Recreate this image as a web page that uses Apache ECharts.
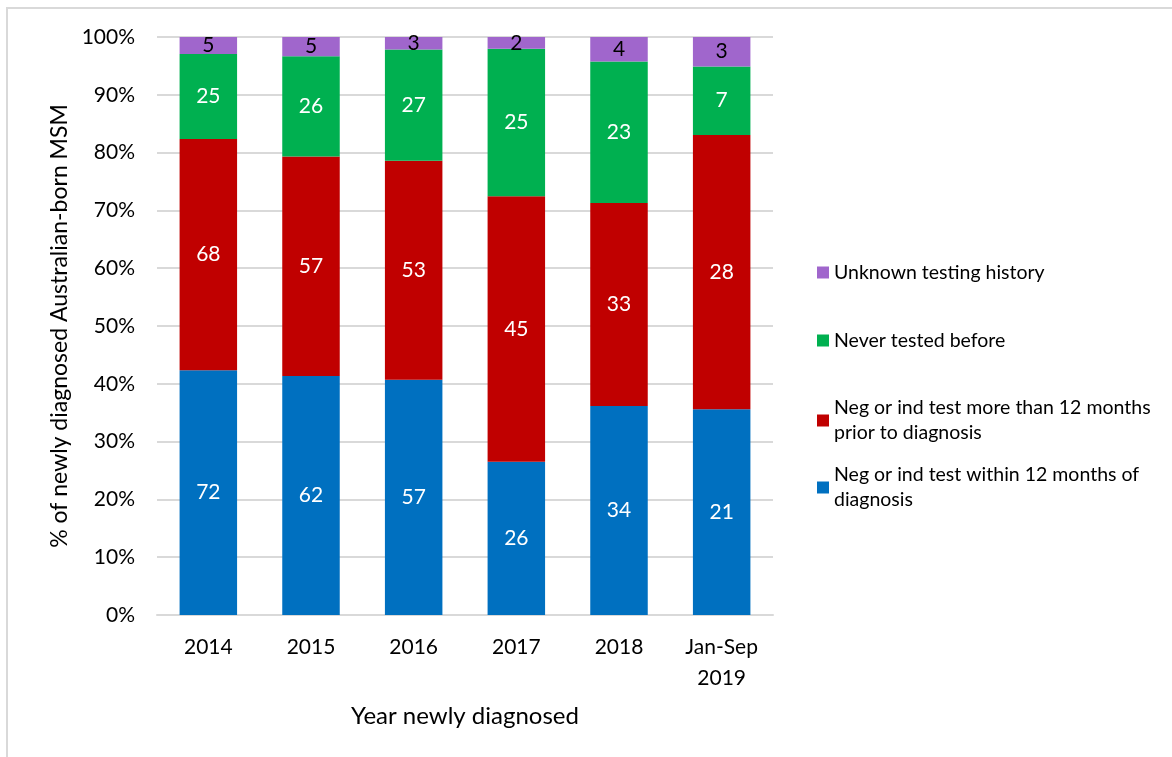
<!DOCTYPE html>
<html>
<head>
<meta charset="utf-8">
<script src="https://cdn.jsdelivr.net/npm/echarts@6/dist/echarts.min.js"></script>
<style>
  html, body { margin: 0; padding: 0; background: #fff; }
  #chart { width: 1172px; height: 757px; }
</style>
</head>
<body>
<div id="chart"></div>
<script>
// Year of diagnosis
const categories = ['2014', '2015', '2016', '2017', '2018', 'Jan-Sep\n2019'];

// Number of newly diagnosed men by testing history
const withinTwelve = [72, 62, 57, 26, 34, 21];
const moreThanTwelve = [68, 57, 53, 45, 33, 28];
const neverTested = [25, 26, 27, 25, 23, 7];
const unknownHistory = [5, 5, 3, 2, 4, 3];

const yTicks = [0, 10, 20, 30, 40, 50, 60, 70, 80, 90, 100];

const seriesNames = [
  'Neg or ind test within 12 months of\ndiagnosis',
  'Neg or ind test more than 12 months\nprior to diagnosis',
  'Never tested before',
  'Unknown testing history'
];
const counts = [withinTwelve, moreThanTwelve, neverTested, unknownHistory];
const colors = ['#0070C0', '#C00000', '#00B050', '#A066CC'];
const labelColors = ['#ffffff', '#ffffff', '#ffffff', '#000000'];

const totals = categories.map((_, i) => counts.reduce((s, arr) => s + arr[i], 0));

const FONT = 'Lato, "Open Sans", sans-serif';

const series = counts.map((arr, k) => ({
  name: seriesNames[k],
  type: 'bar',
  stack: 'total',
  barWidth: '56%',
  itemStyle: { color: colors[k] },
  data: arr.map((v, i) => ({ value: v / totals[i] * 100, count: v })),
  label: {
    show: true,
    position: 'inside',
    color: labelColors[k],
    fontSize: 21,
    fontFamily: FONT,
    formatter: p => String(p.data.count)
  }
}));

// one legend block per entry so each can sit at its own height
const legendTops = [255, 323, 378, 445];
const legendOrder = [3, 2, 1, 0];
const legends = legendOrder.map((k, j) => ({
  data: [seriesNames[k]],
  left: 812,
  top: legendTops[j],
  orient: 'vertical',
  itemWidth: 12,
  itemHeight: 12,
  itemGap: 0,
  icon: 'rect',
  selectedMode: false,
  textStyle: {
    fontSize: 19.5,
    fontFamily: FONT,
    color: '#000',
    lineHeight: 25,
    padding: seriesNames[k].indexOf('\n') >= 0 ? [25, 0, 0, 0] : 0
  }
}));

const chart = echarts.init(document.getElementById('chart'), null, { renderer: 'canvas' });
chart.setOption({
  animation: false,
  backgroundColor: '#fff',
  legend: legends,
  grid: { left: 157, right: 399, top: 37, bottom: 142 },
  xAxis: {
    type: 'category',
    data: categories,
    axisTick: { show: false },
    axisLine: { lineStyle: { color: '#d9d9d9', width: 2 } },
    axisLabel: { fontSize: 21, fontFamily: FONT, color: '#000', margin: 17, lineHeight: 31 },
    name: 'Year newly diagnosed',
    nameLocation: 'middle',
    nameGap: 89,
    nameTextStyle: { fontSize: 24, fontFamily: FONT, color: '#000' }
  },
  yAxis: {
    type: 'value',
    min: yTicks[0],
    max: yTicks[yTicks.length - 1],
    interval: yTicks[1] - yTicks[0],
    axisLabel: { fontSize: 21, fontFamily: FONT, color: '#000', formatter: '{value}%', margin: 22 },
    splitLine: { lineStyle: { color: '#d9d9d9', width: 2 } },
    axisLine: { show: false },
    axisTick: { show: false },
    name: '% of newly diagnosed Australian-born MSM',
    nameLocation: 'middle',
    nameGap: 82,
    nameTextStyle: { fontSize: 23, fontFamily: FONT, color: '#000' }
  },
  graphic: [{
    type: 'polyline',
    silent: true,
    shape: { points: [[7, 757], [7, 8], [1172, 8]] },
    style: { stroke: '#d9d9d9', lineWidth: 2, fill: null }
  }],
  series: series
});
</script>
</body>
</html>
